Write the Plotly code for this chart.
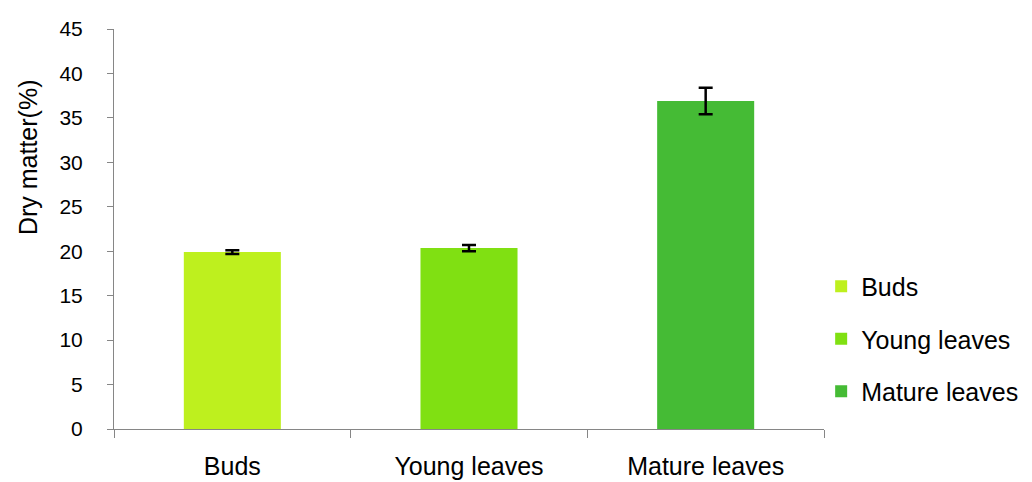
import plotly.graph_objects as go

categories = ["Buds", "Young leaves", "Mature leaves"]
values = [19.9, 20.35, 36.9]
errors = [0.2, 0.35, 1.5]
colors = ["#BEF01E", "#80E012", "#45BB35"]
y_ticks = [0, 5, 10, 15, 20, 25, 30, 35, 40, 45]
y_title = "Dry matter(%)"

FONT = "Liberation Sans, Arial, sans-serif"

fig = go.Figure()
for i, (cat, val, err, col) in enumerate(zip(categories, values, errors, colors)):
    fig.add_trace(go.Bar(
        x=[cat], y=[val], name=cat,
        marker=dict(color=col, line=dict(width=0)),
        width=0.41,
        legendgroup=f"g{i}",
        error_y=dict(type="data", array=[err], visible=True,
                     color="black", thickness=2.5, width=7),
    ))

fig.update_layout(
    width=1032, height=482,
    paper_bgcolor="white", plot_bgcolor="white",
    margin=dict(l=106, r=216, t=21, b=61, autoexpand=False),
    barmode="overlay",
    font=dict(family=FONT, color="black"),
    showlegend=True,
    legend=dict(x=0.996, xanchor="left", y=0.225, yanchor="middle",
                font=dict(size=25, family=FONT), traceorder="grouped",
                tracegroupgap=17, bgcolor="rgba(0,0,0,0)"),
    annotations=[dict(
        text=y_title, textangle=-90, xref="paper", yref="paper",
        x=-0.121, y=0.68, xanchor="center", yanchor="middle",
        showarrow=False, font=dict(size=25, family=FONT, color="black"),
    )],
)
fig.update_xaxes(
    categoryorder="array", categoryarray=categories,
    showline=True, linecolor="#868686", linewidth=1,
    ticks="outside", tickson="boundaries", ticklen=8, tickcolor="#868686",
    tickfont=dict(size=25, family=FONT), ticklabelstandoff=15,
    showgrid=False, zeroline=False,
)
fig.update_yaxes(
    range=[0, 45], tickvals=y_ticks, ticktext=[str(t) for t in y_ticks],
    showline=True, linecolor="#868686", linewidth=1,
    ticks="outside", ticklen=6, tickcolor="#868686",
    tickfont=dict(size=21, family=FONT), ticklabelstandoff=20,
    showgrid=False, zeroline=False,
)

fig.write_html("out.html")
